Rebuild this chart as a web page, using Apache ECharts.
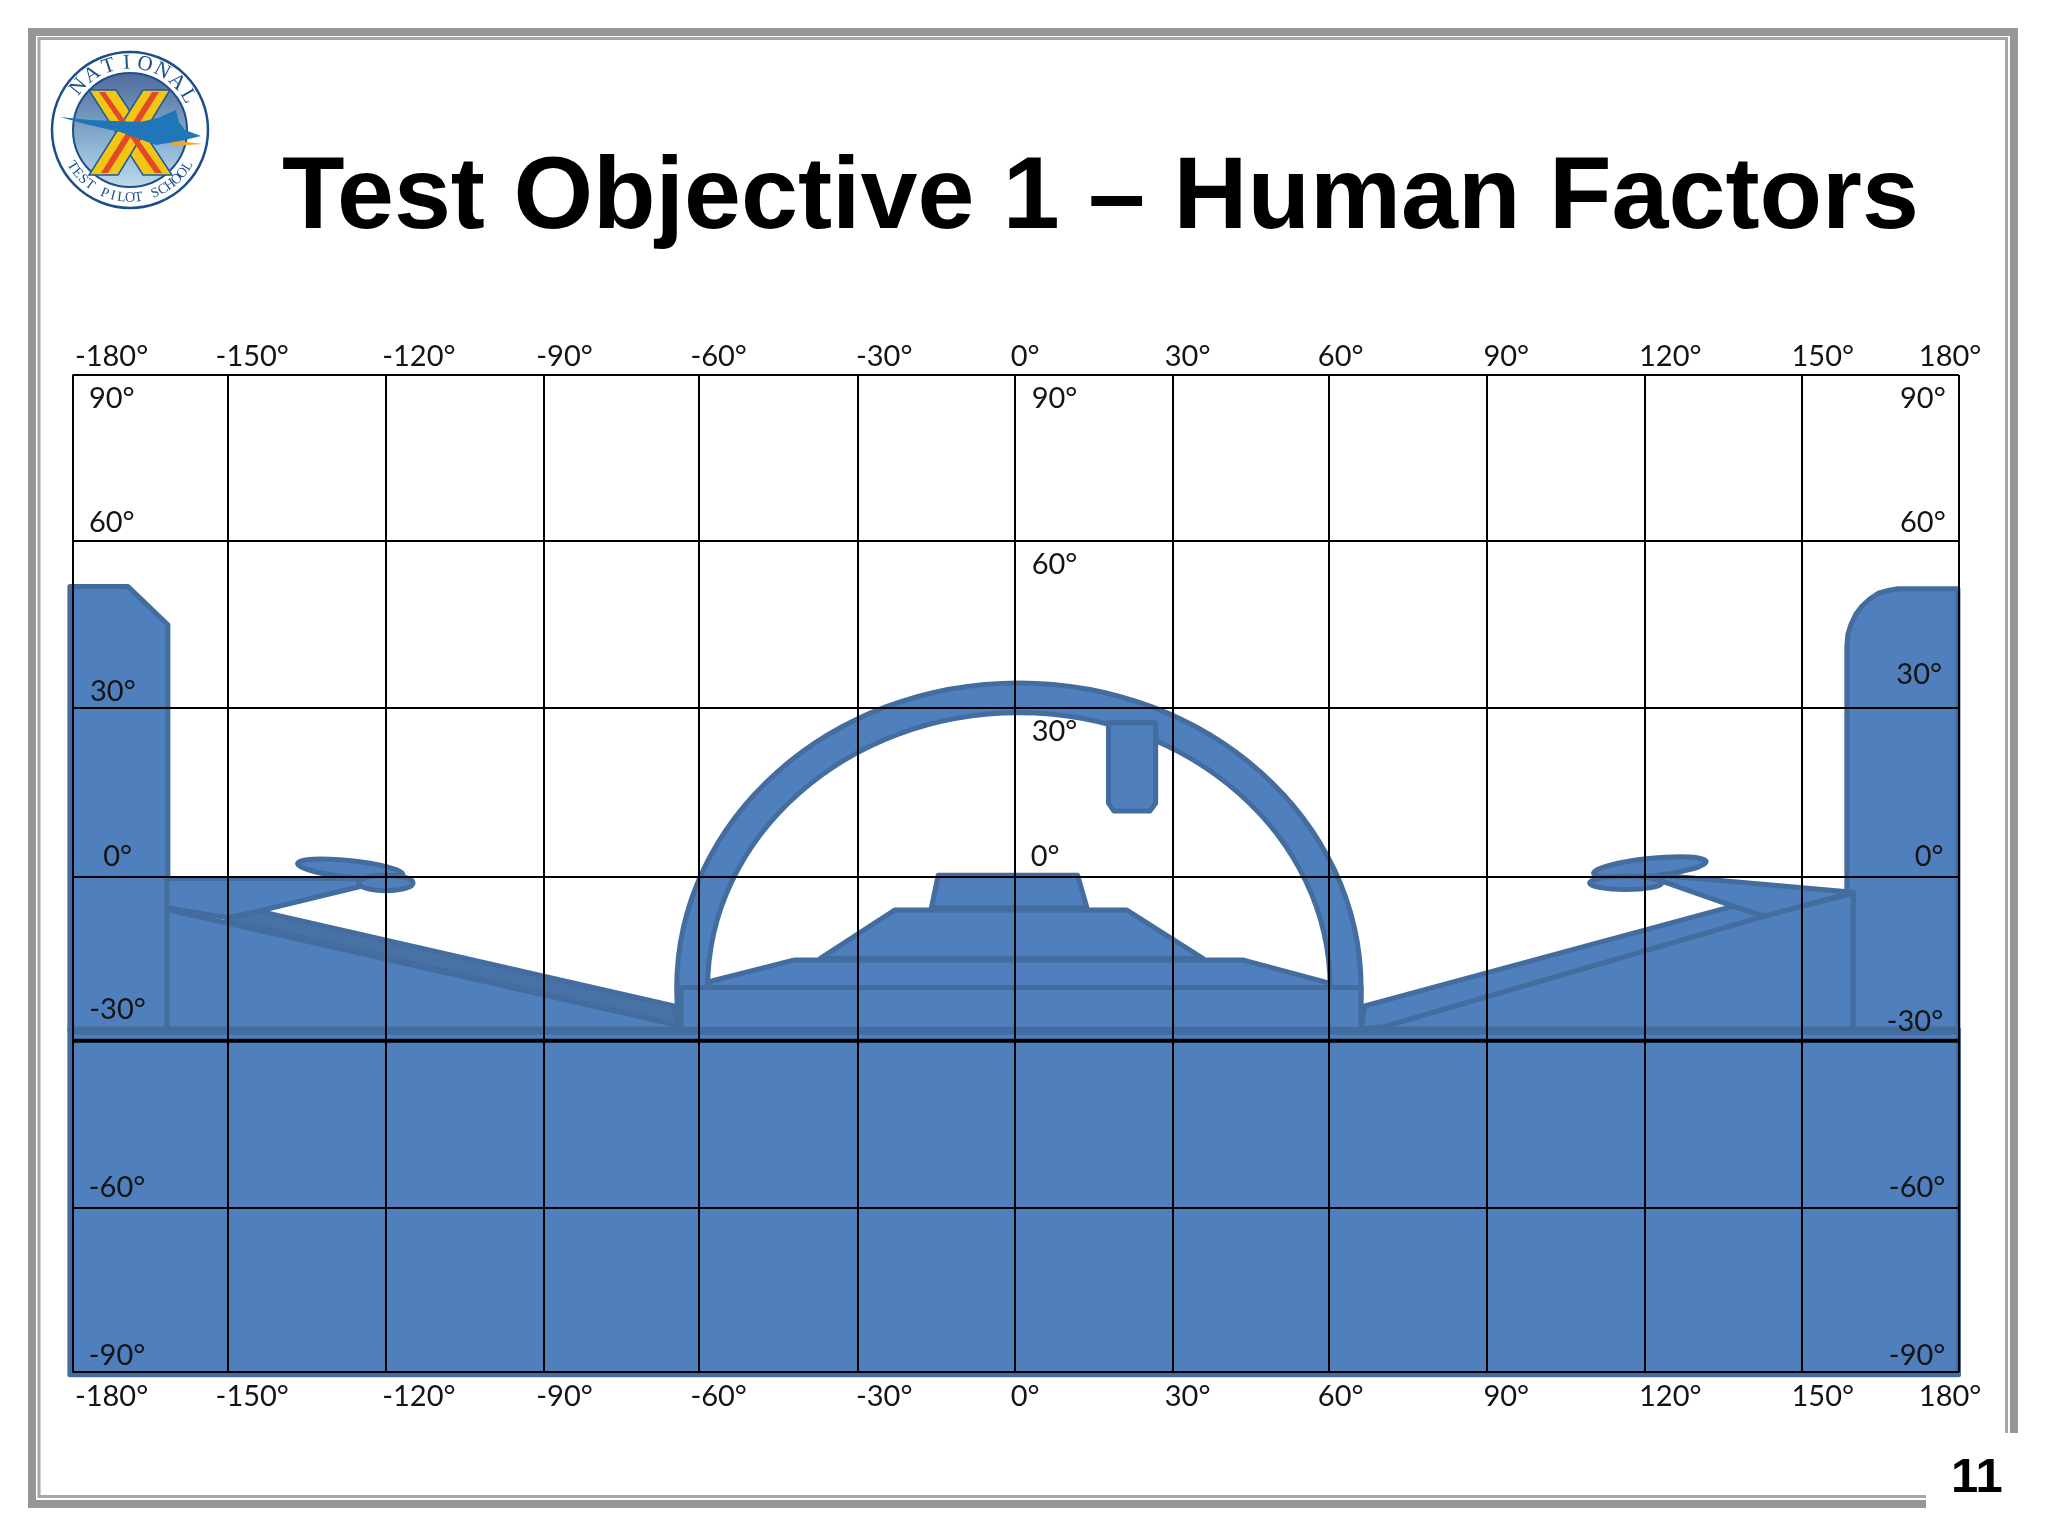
<!DOCTYPE html>
<html>
<head>
    <meta charset="utf-8">
    <script src="https://cdn.jsdelivr.net/npm/echarts@6/dist/echarts.min.js"></script>
    <style>
        body { margin: 0; background: #fff; }
    </style>
</head>

<body>
<div id="main" style="width: 2048px;height:1536px;"></div>

<script type="text/javascript">
    // grid line positions (the drawing is not quite regular)
    var gridLon = [-180, -150.4, -120.2, -90, -60.4, -30.1, -0.1, 30, 59.8, 89.9, 120.1, 149.9, 180];
    var gridLat = [90, 60, 29.9, -0.65, -30.2, -60.4, -90];
    var heavyLine = [[-180, -30.2], [180, -30.2]];

    // tick labels and the place each one sits in the picture
    var lonTicks = ['-180°', '-150°', '-120°', '-90°', '-60°', '-30°', '0°', '30°', '60°', '90°', '120°', '150°', '180°'];
    var lonTickAt = [-172.55, -145.7, -113.9, -86.1, -56.7, -25.1, 1.8, 32.8, 62, 93.6, 124.9, 154, 178.3];
    var topRowLat = 93.4;
    var bottomRowLat = -94.5;

    var latLeftTicks = ['90°', '60°', '30°', '0°', '-30°', '-60°', '-90°'];
    var latLeftLon = [-172.5, -172.5, -172.3, -171.4, -171.4, -171.5, -171.5];
    var latLeftLat = [85.7, 63.3, 32.8, 3.1, -24.5, -56.8, -87.1];

    var latMidTicks = ['90°', '60°', '30°', '0°'];
    var latMidLon = [7.4, 7.4, 7.4, 5.6];
    var latMidLat = [85.7, 55.7, 25.7, 3.1];

    var latRightTicks = ['90°', '60°', '30°', '0°', '-30°', '-60°', '-90°'];
    var latRightLon = [173.1, 173.1, 172.4, 174.3, 171.6, 172, 172];
    var latRightLat = [85.7, 63.3, 35.9, 3.1, -26.7, -56.8, -87.1];

    // cockpit outline, in degrees
    var leftPanel = [[-180.5, 51.8], [-169.4, 51.8], [-161.8, 44.9], [-161.8, -28.1], [-180.5, -28.1]];
    var rightPanel = [[158.6, 41.1], [158.8, 43.2], [159.4, 45], [160.3, 46.8], [161.5, 48.3], [163, 49.6], [164.6, 50.6], [166.5, 51.1], [168.4, 51.4], [179.8, 51.4], [179.8, -28.1], [159.8, -28.1], [159.8, -3.6], [158.6, -3.6]];
    var leftWall = [[-162, -6.5], [-64.4, -27.4], [-64.4, -28.1], [-162, -28.1]];
    var leftSill = [[-144.4, -6.8], [-65.2, -23.9], [-64.4, -27.4], [-150.4, -8.4]];
    var leftArm = [[-162, -0.9], [-125.3, -0.9], [-125.3, -2.4], [-144.4, -6.8], [-150.4, -8], [-162, -6.2]];
    var rightWall = [[70.4, -27.6], [142.8, -7.7], [159.8, -3.6], [159.8, -28.1], [65.9, -28.1]];
    var rightSill = [[66.6, -23.9], [136.9, -5.9], [142.8, -7.7], [70.4, -27.6], [65.9, -28.1]];
    var rightArm = [[123.1, -0.3], [159.8, -3.4], [142.8, -7.7], [136.9, -5.9], [123.7, -1.5]];
    var shieldTop = [[-16.1, -6.2], [-14.8, -0.3], [11.8, -0.3], [13.6, -6.2]];
    var shieldMid = [[-37.3, -15.3], [-23.1, -6.6], [21.2, -6.6], [35.7, -15.3]];
    var shieldLow = [[-58.4, -19.5], [-42.2, -15.6], [43.3, -15.6], [59.5, -19.7], [59.5, -20.6], [-58.4, -20.6]];
    var dashBase = [[-63.9, -20.6], [65.9, -20.6], [65.9, -28.3], [-63.9, -28.3]];
    var sunVisor = [[17.7, 27.2], [26.7, 27.2], [26.7, 12.7], [25.6, 11.3], [18.7, 11.3], [17.7, 12.7]];
    var lowerBody = [[-180.5, -28.1], [179.9, -28.1], [179.9, -90.5], [-180.5, -90.5]];
    var floorBand = [[-180.2, -27.8], [179.6, -27.8], [179.6, -29], [-180.2, -29]];

    // [centre lon, centre lat, radius lon, radius lat, tilt]
    var archOuter = [0.6, -20.7, 65.3, 55.1, 0];
    var archInner = [0.6, -20.7, 59.4, 49.7, 0];
    var leftGripTop = [-127, 0.8, 10.1, 1.5, 6];
    var leftGripLow = [-120.2, -1.7, 5.2, 1.4, 0];
    var rightGripTop = [121, 1.1, 10.8, 1.6, -6];
    var rightGripLow = [116.4, -1.7, 6.9, 1.2, 0];

    var FILL = '#4f7fbc';
    var EDGE = '#436c9f';
    var SILL = '#4871a5';

    // draw order, back to front
    var shapes = [
        {pts: leftPanel}, {pts: rightPanel},
        {pts: leftWall}, {pts: leftSill, fill: SILL}, {pts: leftArm},
        {pts: rightWall}, {pts: rightSill}, {pts: rightArm},
        {oval: leftGripTop}, {oval: leftGripLow}, {oval: rightGripTop}, {oval: rightGripLow},
        {oval: archOuter}, {oval: archInner, fill: '#ffffff'},
        {pts: sunVisor},
        {pts: shieldTop}, {pts: shieldMid}, {pts: shieldLow},
        {pts: lowerBody}, {pts: dashBase},
        {pts: floorBand, fill: EDGE, width: 1}
    ];

    function drawShape(params, api) {
        var s = shapes[params.dataIndex];
        var style = {fill: s.fill || FILL, stroke: EDGE, lineWidth: s.width || 5, lineJoin: 'round'};
        if (s.pts) {
            return {
                type: 'polygon',
                shape: {points: s.pts.map(function (p) { return api.coord(p); })},
                style: style
            };
        }
        var c = api.coord([s.oval[0], s.oval[1]]);
        var edge = api.coord([s.oval[0] + s.oval[2], s.oval[1] - s.oval[3]]);
        return {
            type: 'ellipse',
            originX: c[0],
            originY: c[1],
            rotation: -s.oval[4] * Math.PI / 180,
            shape: {cx: c[0], cy: c[1], rx: edge[0] - c[0], ry: edge[1] - c[1]},
            style: style
        };
    }

    var tickData = [];
    lonTicks.forEach(function (t, i) {
        tickData.push([lonTickAt[i], topRowLat, t]);
        tickData.push([lonTickAt[i], bottomRowLat, t]);
    });
    latLeftTicks.forEach(function (t, i) { tickData.push([latLeftLon[i], latLeftLat[i], t]); });
    latMidTicks.forEach(function (t, i) { tickData.push([latMidLon[i], latMidLat[i], t]); });
    latRightTicks.forEach(function (t, i) { tickData.push([latRightLon[i], latRightLat[i], t]); });

    function drawTick(params, api) {
        var p = api.coord([api.value(0), api.value(1)]);
        return {
            type: 'text',
            x: p[0],
            y: p[1],
            style: {
                text: tickData[params.dataIndex][2],
                fontFamily: 'Lato',
                fontSize: 29,
                fill: '#141414',
                align: 'center',
                verticalAlign: 'middle'
            }
        };
    }

    // school badge, top left
    var badgeX = 130, badgeY = 130;
    var badgeNameTop = 'NATIONAL';
    var badgeNameBottom = 'TEST PILOT SCHOOL';

    function badgeLetters() {
        var out = [];
        badgeNameTop.split('').forEach(function (ch, i) {
            var a = (-50 + i * 15.7) * Math.PI / 180;
            out.push({
                type: 'text', z: 12,
                x: badgeX + 67 * Math.sin(a), y: badgeY - 67 * Math.cos(a),
                rotation: -a,
                style: {text: ch, fontFamily: 'Liberation Serif', fontSize: 21, fill: '#1d4e89', align: 'center', verticalAlign: 'middle'}
            });
        });
        badgeNameBottom.split('').forEach(function (ch, i) {
            var a = (58 - i * 7.25) * Math.PI / 180;
            out.push({
                type: 'text', z: 12,
                x: badgeX - 68 * Math.sin(a), y: badgeY + 68 * Math.cos(a),
                rotation: -a,
                style: {text: ch, fontFamily: 'Liberation Serif', fontSize: 14, fill: '#1d4e89', align: 'center', verticalAlign: 'middle'}
            });
        });
        return out;
    }

    function poly(points, fill, stroke, width) {
        return {type: 'polygon', z: 11, shape: {points: points}, style: {fill: fill, stroke: stroke, lineWidth: width || 0}};
    }

    var badge = [
        {type: 'circle', z: 10, shape: {cx: badgeX, cy: badgeY, r: 78}, style: {fill: '#ffffff', stroke: '#1d4e89', lineWidth: 2.5}},
        {
            type: 'circle', z: 10, shape: {cx: badgeX, cy: badgeY, r: 57},
            style: {
                stroke: '#1d4e89', lineWidth: 2,
                fill: {type: 'linear', x: 0, y: 0, x2: 0, y2: 1, colorStops: [
                    {offset: 0, color: '#4f6a9c'}, {offset: 0.5, color: '#7fa5c8'}, {offset: 1, color: '#bcdcee'}
                ]}
            }
        },
        poly([[89, 90], [116, 90], [172, 175], [143, 175]], '#f3c515', '#1d5a9a', 1.5),
        poly([[143, 90], [170, 90], [118, 175], [89, 175]], '#f3c515', '#1d5a9a', 1.5),
        poly([[99, 92], [105, 92], [162, 173], [155, 173]], '#e2492b'),
        poly([[152, 92], [159, 92], [108, 173], [101, 173]], '#e2492b'),
        poly([[170, 140], [203, 144], [172, 146]], '#f2a52c'),
        poly([[60, 117], [90, 120], [140, 122], [158, 118], [176, 110], [179, 122], [185, 130], [201, 136], [180, 141], [156, 145], [120, 132], [85, 124]], '#1f76b8')
    ].concat(badgeLetters());

    var frame = [
        {type: 'rect', z: 8, shape: {x: 32, y: 32, width: 1982, height: 1472}, style: {fill: 'none', stroke: '#969696', lineWidth: 8}},
        {type: 'rect', z: 8, shape: {x: 39, y: 38.5, width: 1967.5, height: 1458}, style: {fill: 'none', stroke: '#a6a6a6', lineWidth: 3}},
        {type: 'rect', z: 9, shape: {x: 1926, y: 1433, width: 122, height: 103}, style: {fill: '#ffffff'}}
    ];

    var myChart = echarts.init(document.getElementById('main'));
    myChart.setOption({
        animation: false,
        backgroundColor: '#ffffff',
        title: [{
            text: 'Test Objective 1 – Human Factors',
            left: 282,
            top: 149,
            padding: 0,
            z: 12,
            textStyle: {fontFamily: 'Liberation Sans', fontWeight: 'bold', fontSize: 102.4, color: '#000000'}
        }, {
            text: '11',
            left: 1951,
            top: 1454,
            padding: 0,
            z: 12,
            textStyle: {fontFamily: 'Liberation Sans', fontWeight: 'bold', fontSize: 49, color: '#000000'}
        }],
        grid: {left: 72.5, right: 89, top: 375, bottom: 164},
        xAxis: {
            type: 'value', min: -180, max: 180, interval: 30, z: 5,
            axisLine: {show: false},
            axisLabel: {show: false},
            axisTick: {show: false, customValues: gridLon},
            splitLine: {show: true, lineStyle: {color: '#000000', width: 2}}
        },
        yAxis: {
            type: 'value', min: -90, max: 90, interval: 30, z: 5,
            axisLine: {show: false},
            axisLabel: {show: false},
            axisTick: {show: false, customValues: gridLat},
            splitLine: {show: true, lineStyle: {color: '#000000', width: 2}}
        },
        graphic: {elements: frame.concat(badge)},
        series: [{
            type: 'custom',
            z: 1,
            silent: true,
            clip: false,
            renderItem: drawShape,
            data: shapes.map(function (s, i) { return [i]; }),
            encode: {x: 0}
        }, {
            type: 'line',
            z: 6,
            silent: true,
            symbol: 'none',
            lineStyle: {color: '#000000', width: 4},
            data: heavyLine
        }, {
            type: 'custom',
            z: 7,
            silent: true,
            clip: false,
            renderItem: drawTick,
            data: tickData.map(function (d) { return [d[0], d[1]]; }),
            encode: {x: 0, y: 1}
        }]
    });
</script>

</body>

</html>
